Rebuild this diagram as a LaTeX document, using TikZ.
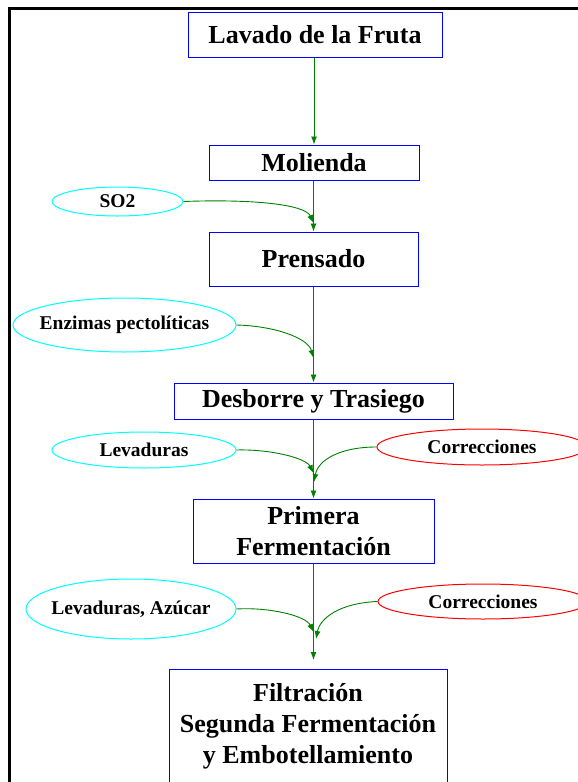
\documentclass[tikz,border=0pt]{standalone}
\usepackage{fontspec}
\setmainfont{Liberation Serif}
\usetikzlibrary{shapes.geometric,arrows.meta}
\definecolor{flowgreen}{RGB}{0,128,0}
\definecolor{boxblue}{RGB}{0,0,255}
\definecolor{incyan}{RGB}{0,255,255}
\definecolor{fixred}{RGB}{255,0,0}
\begin{document}
\begin{tikzpicture}[x=1pt, y=-1pt,
    proc/.style={draw=boxblue, line width=1pt, inner sep=0pt, align=center, font=\fontsize{26}{31}\selectfont\bfseries},
    addin/.style={ellipse, draw=incyan, line width=1pt, inner xsep=-12pt, inner ysep=-3pt, font=\fontsize{19.5}{23}\selectfont\bfseries},
    fix/.style={addin, draw=fixred},
    flow/.style={draw=flowgreen, line width=0.9pt, -{Latex[length=8pt,width=6pt]}}]
    \useasboundingbox (0,0) rectangle (578,782);
    \clip (0,0) rectangle (578,782);
    \draw[line width=2.5pt] (9.5,8.5) rectangle (640,840);
    % process steps
    \node[proc, minimum width=254pt, minimum height=45pt] (lavado) at (315,34.5) {Lavado de la Fruta};
    \node[proc, minimum width=210pt, minimum height=35pt] (molienda) at (314,162.5) {Molienda};
    \node[proc, minimum width=209pt, minimum height=54pt] (prensado) at (313.5,259) {Prensado};
    \node[proc, minimum width=279pt, minimum height=36pt] (desborre) at (313.5,401) {Desborre y Trasiego};
    \node[proc, minimum width=241pt, minimum height=64pt] (primera) at (313.5,531) {Primera\\Fermentación};
    \node[proc, minimum width=278pt, minimum height=114pt] (filtracion) at (308,726) {Filtración\\Segunda Fermentación\\y Embotellamiento};
    % additions
    \node[addin, minimum width=131pt, minimum height=29pt] (so2) at (117.5,201.5) {SO2};
    \node[addin, minimum width=223pt, minimum height=54pt] (enzimas) at (124.5,325) {Enzimas pectolíticas};
    \node[addin, minimum width=184pt, minimum height=36pt] (lev) at (144,450) {Levaduras};
    \node[fix, minimum width=210pt, minimum height=36pt] (corr1) at (482,447) {Correcciones};
    \node[addin, minimum width=210pt, minimum height=60pt] (levaz) at (131,609) {Levaduras, Azúcar};
    \node[fix, minimum width=210pt, minimum height=35pt] (corr2) at (483,601.5) {Correcciones};
    \coordinate (j1) at (313.5,223);
    \coordinate (j2) at (313.5,358);
    \coordinate (j3) at (313.5,473);
    \coordinate (j4) at (314,482);
    \coordinate (j5) at (313.5,632);
    \coordinate (j6) at (316,639);
    \coordinate (fin) at (313.5,660);
    % main flow
    \draw[flow] (lavado.south -| molienda) -- (molienda.north);
    \draw[flow] (molienda.south -| prensado) -- (prensado.north);
    \draw[flow] (prensado.south) -- (desborre.north);
    \draw[flow] (desborre.south) -- (primera.north);
    \draw[flow] (primera.south) -- (fin);
    % side inputs
    \draw[flow] (so2.east) .. controls (250,199) and (305,204) .. (j1);
    \draw[flow] (enzimas.east) .. controls (275,326) and (308,338) .. (j2);
    \draw[flow] (lev.east) .. controls (270,449) and (306,458) .. (j3);
    \draw[flow] (corr1.west) .. controls (340,447) and (318,460) .. (j4);
    \draw[flow] (levaz.east) .. controls (270,607) and (306,616) .. (j5);
    \draw[flow] (corr2.west) .. controls (340,603) and (320,618) .. (j6);
\end{tikzpicture}
\end{document}
